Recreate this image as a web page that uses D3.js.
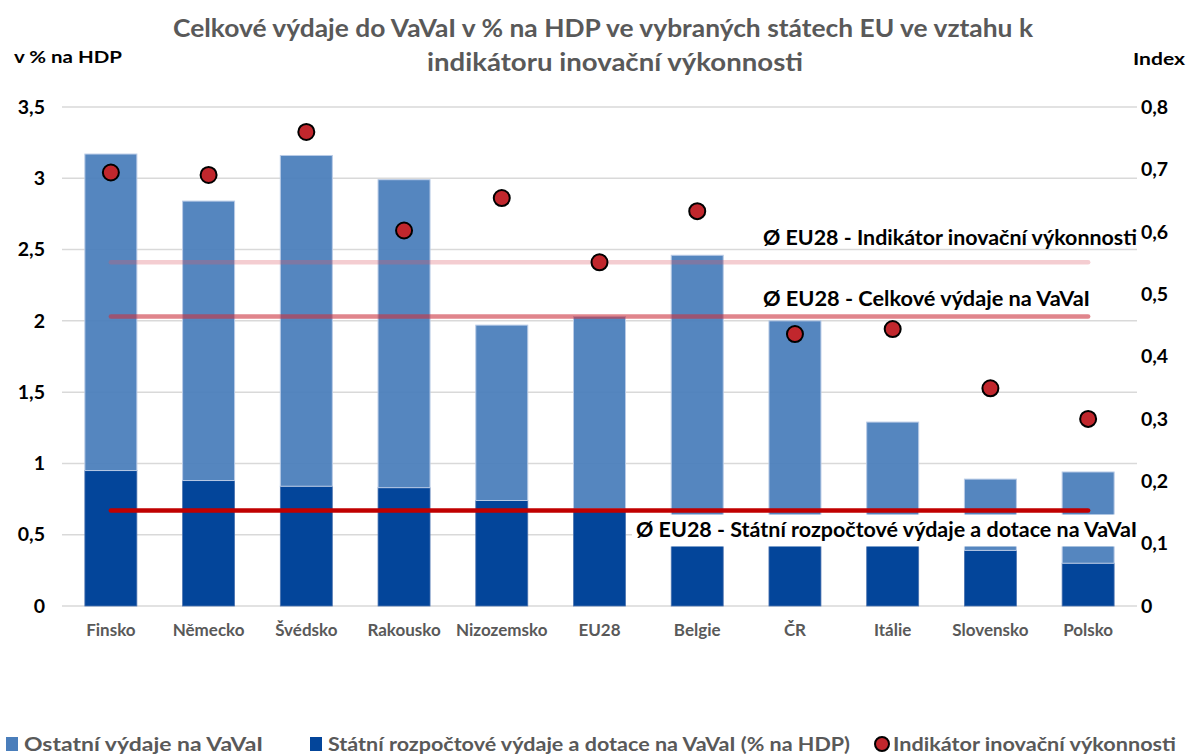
<!DOCTYPE html>
<html>
<head>
<meta charset="utf-8">
<script src="https://cdn.jsdelivr.net/npm/d3@7"></script>
<style>
  html, body { margin: 0; padding: 0; background: #fff; }
  svg { display: block; font-family: Lato, "Open Sans", sans-serif; }
</style>
</head>
<body>
<svg id="chart" width="1189" height="755"></svg>
<script>
// ---- data ----
const categories = ["Finsko", "Německo", "Švédsko", "Rakousko", "Nizozemsko", "EU28", "Belgie", "ČR", "Itálie", "Slovensko", "Polsko"];
const statniVydaje = [0.95, 0.88, 0.84, 0.83, 0.74, 0.68, 0.55, 0.60, 0.50, 0.39, 0.30];
const ostatniVydaje = [2.22, 1.96, 2.32, 2.16, 1.23, 1.35, 1.91, 1.40, 0.79, 0.50, 0.64];
const indikator = [0.695, 0.691, 0.760, 0.602, 0.654, 0.551, 0.633, 0.436, 0.444, 0.349, 0.300];
const eu28Indikator = 0.551;
const eu28Celkove = 2.03;
const eu28Statni = 0.67;
const leftTicks = [0, 0.5, 1, 1.5, 2, 2.5, 3, 3.5];
const rightTicks = [0, 0.1, 0.2, 0.3, 0.4, 0.5, 0.6, 0.7, 0.8];
const titleLines = ["Celkové výdaje do VaVaI v % na HDP ve vybraných státech EU ve vztahu k", "indikátoru inovační výkonnosti"];
const legendLabels = ["Ostatní výdaje na VaVaI", "Státní rozpočtové výdaje a dotace na VaVaI (% na HDP)", "Indikátor inovační výkonnosti"];
const refLabels = ["Ø EU28 - Indikátor inovační výkonnosti", "Ø EU28 - Celkové výdaje na VaVaI", "Ø EU28 - Státní rozpočtové výdaje a dotace na VaVaI"];

// ---- layout ----
const svg = d3.select("#chart");
const L = 62, R = 1137, T = 107, B = 606;
const cLight = "#4a7ebb", cDark = "#03459a", cDot = "#c1272d", cGray = "#595959";
const fmt = v => String(v).replace(".", ",");

const x = d3.scaleBand().domain(categories).range([L, R]).paddingInner(0.468).paddingOuter(0.234);
const yL = d3.scaleLinear().domain([0, 3.5]).range([B, T]);
const yR = d3.scaleLinear().domain([0, 0.8]).range([B, T]);

function fit(sel, w) { sel.attr("textLength", w).attr("lengthAdjust", "spacingAndGlyphs"); return sel; }

// title
titleLines.forEach((t, i) => {
  fit(svg.append("text").attr("x", i === 0 ? 603 : 615).attr("y", i === 0 ? 37 : 71)
    .attr("text-anchor", "middle").attr("font-size", 25).attr("font-weight", 700)
    .attr("fill", cGray).text(t), i === 0 ? 860 : 376);
});

// axis titles
fit(svg.append("text").attr("x", 14).attr("y", 63).attr("font-size", 17).attr("font-weight", 700)
  .attr("fill", "#000").text("v % na HDP"), 108);
fit(svg.append("text").attr("x", 1133).attr("y", 65).attr("font-size", 17).attr("font-weight", 700)
  .attr("fill", "#000").text("Index"), 52);

// gridlines
svg.append("g").selectAll("line").data(leftTicks).join("line")
  .attr("x1", L).attr("x2", R).attr("y1", d => yL(d)).attr("y2", d => yL(d))
  .attr("stroke", "#d9d9d9").attr("stroke-width", 1.5);

// left axis
const axL = svg.append("g").attr("transform", `translate(${L},0)`)
  .call(d3.axisLeft(yL).tickValues(leftTicks).tickFormat(fmt).tickSize(0).tickPadding(17));
axL.select(".domain").remove();
axL.selectAll("text").attr("font-size", 19.5).attr("font-weight", 700).attr("fill", "#000").attr("font-family", "Lato, sans-serif");

// right axis
const axR = svg.append("g").attr("transform", `translate(${R},0)`)
  .call(d3.axisRight(yR).tickValues(rightTicks).tickFormat(fmt).tickSize(0).tickPadding(4));
axR.select(".domain").remove();
axR.selectAll("text").attr("font-size", 19.5).attr("font-weight", 700).attr("fill", "#000").attr("font-family", "Lato, sans-serif");

// x axis labels
const axX = svg.append("g").attr("transform", `translate(0,${B})`)
  .call(d3.axisBottom(x).tickSize(0).tickPadding(18));
axX.select(".domain").remove();
axX.selectAll("text").attr("font-size", 17).attr("font-weight", 700).attr("fill", cGray).attr("font-family", "Lato, sans-serif");

// bars
const rows = categories.map((c, i) => ({ c, s: statniVydaje[i], o: ostatniVydaje[i], idx: indikator[i] }));
svg.append("g").selectAll("rect").data(rows).join("rect")
  .attr("x", d => x(d.c)).attr("width", x.bandwidth())
  .attr("y", d => yL(d.s)).attr("height", d => yL(0) - yL(d.s))
  .attr("fill", cDark).attr("stroke", "#4d74b0").attr("stroke-width", 0.8);
svg.append("g").selectAll("rect").data(rows).join("rect")
  .attr("x", d => x(d.c)).attr("width", x.bandwidth())
  .attr("y", d => yL(d.s + d.o)).attr("height", d => yL(d.s) - yL(d.s + d.o))
  .attr("fill", cLight).attr("fill-opacity", 0.94).attr("stroke", "#b9cbe6").attr("stroke-width", 1);

// reference lines
const x0 = x(categories[0]) + x.bandwidth() / 2;
const x1 = x(categories[categories.length - 1]) + x.bandwidth() / 2;
svg.append("line").attr("x1", x0).attr("x2", x1).attr("y1", yR(eu28Indikator)).attr("y2", yR(eu28Indikator))
  .attr("stroke", "#dc5a68").attr("stroke-opacity", 0.3).attr("stroke-width", 4.5).attr("stroke-linecap", "round");
svg.append("line").attr("x1", x0).attr("x2", x1).attr("y1", yL(eu28Celkove)).attr("y2", yL(eu28Celkove))
  .attr("stroke", "#cc3340").attr("stroke-opacity", 0.6).attr("stroke-width", 4.5).attr("stroke-linecap", "round");
svg.append("line").attr("x1", x0).attr("x2", x1).attr("y1", yL(eu28Statni)).attr("y2", yL(eu28Statni))
  .attr("stroke", "#c00000").attr("stroke-width", 4.5).attr("stroke-linecap", "round");

// reference labels
fit(svg.append("text").attr("x", 763).attr("y", yR(eu28Indikator) - 17)
  .attr("font-size", 20).attr("font-weight", 700).attr("fill", "#000").text(refLabels[0]), 374);
fit(svg.append("text").attr("x", 763).attr("y", yL(eu28Celkove) - 11)
  .attr("font-size", 20).attr("font-weight", 700).attr("fill", "#000").text(refLabels[1]), 327);
const boxG = svg.append("g");
const lbl3 = fit(svg.append("text").attr("x", R).attr("y", yL(eu28Statni) + 27).attr("text-anchor", "end")
  .attr("font-size", 20).attr("font-weight", 700).attr("fill", "#000").text(refLabels[2]), 501);
boxG.append("rect").attr("x", R - 505).attr("width", 505)
  .attr("y", yL(eu28Statni) + 4).attr("height", 32).attr("fill", "#fff");

// dots
svg.append("g").selectAll("circle").data(rows).join("circle")
  .attr("cx", d => x(d.c) + x.bandwidth() / 2).attr("cy", d => yR(d.idx)).attr("r", 8)
  .attr("fill", cDot).attr("stroke", "#000").attr("stroke-width", 2);

// legend
const lg = svg.append("g");
lg.append("rect").attr("x", 6).attr("y", 737).attr("width", 12).attr("height", 14).attr("fill", cLight);
fit(lg.append("text").attr("x", 24).attr("y", 751).attr("font-size", 18.5).attr("font-weight", 700).attr("fill", cGray).text(legendLabels[0]), 239);
lg.append("rect").attr("x", 310).attr("y", 737).attr("width", 12).attr("height", 14).attr("fill", cDark);
fit(lg.append("text").attr("x", 328).attr("y", 751).attr("font-size", 18.5).attr("font-weight", 700).attr("fill", cGray).text(legendLabels[1]), 522);
lg.append("circle").attr("cx", 882).attr("cy", 744).attr("r", 7).attr("fill", cDot).attr("stroke", "#000").attr("stroke-width", 2);
fit(lg.append("text").attr("x", 893).attr("y", 751).attr("font-size", 18.5).attr("font-weight", 700).attr("fill", cGray).text(legendLabels[2]), 283);
</script>
</body>
</html>
